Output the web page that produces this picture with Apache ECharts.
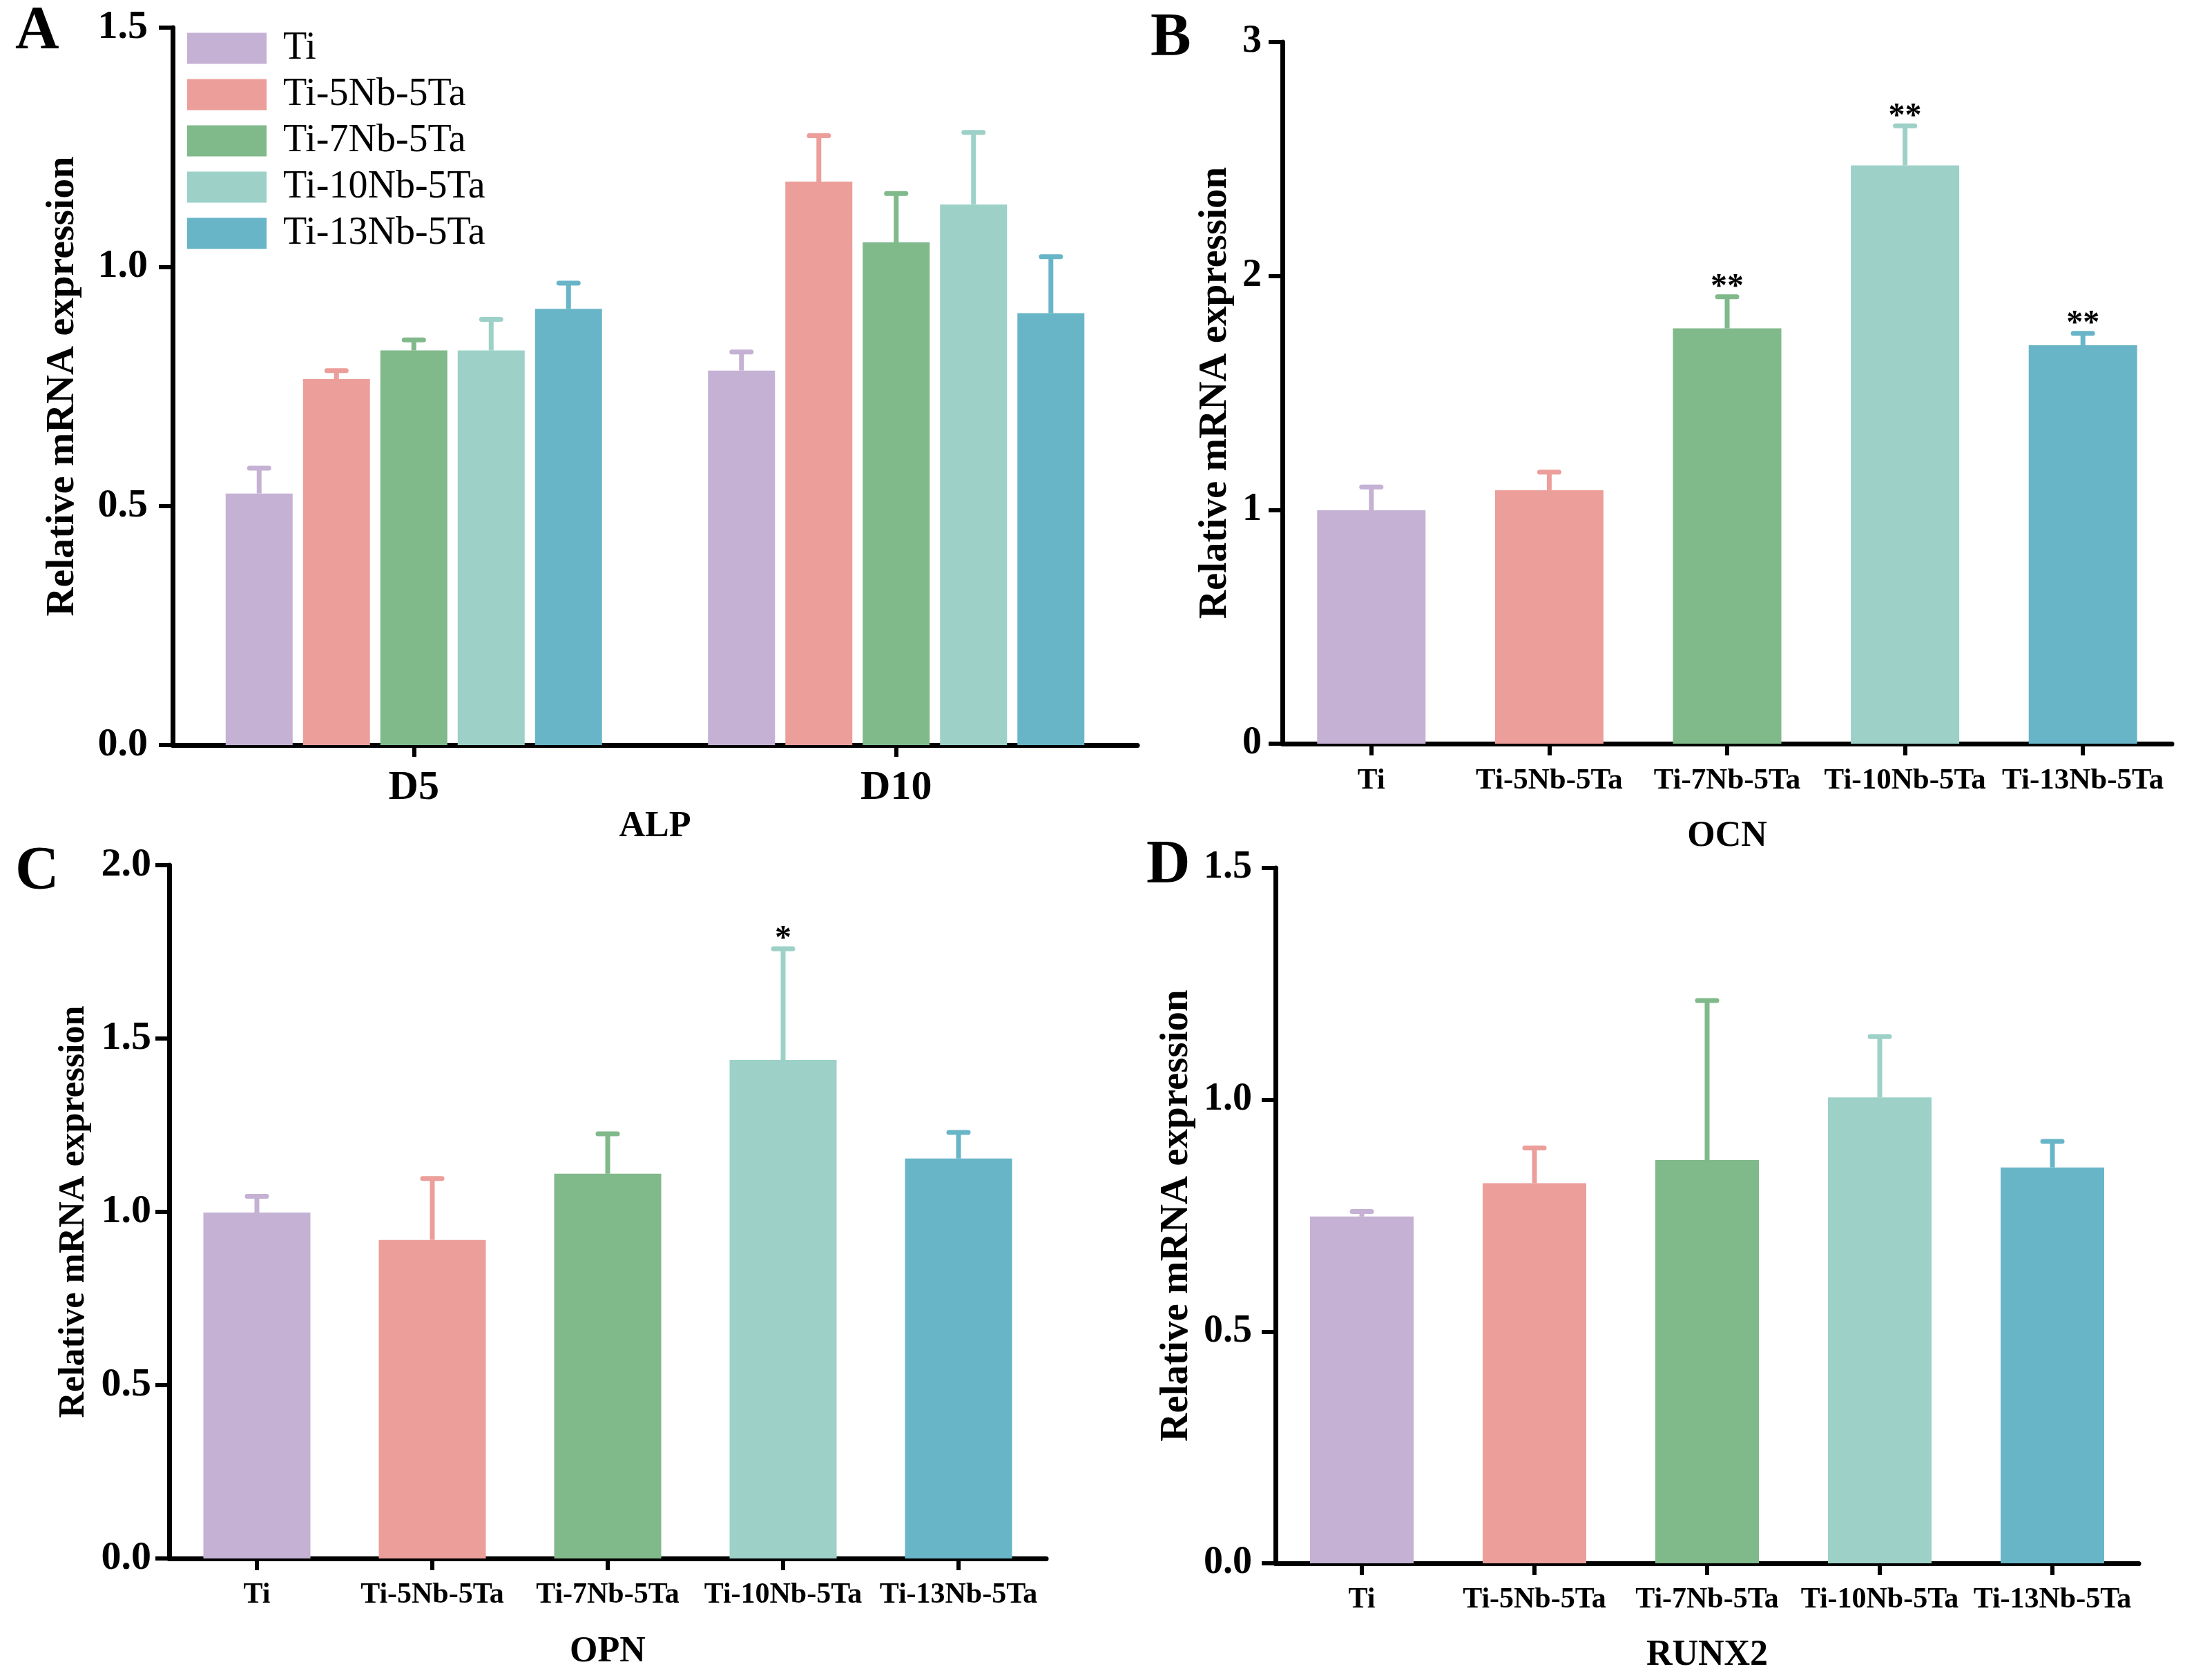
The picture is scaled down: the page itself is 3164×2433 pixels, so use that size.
<!DOCTYPE html>
<html>
<head>
<meta charset="utf-8">
<script src="https://cdn.jsdelivr.net/npm/echarts@6/dist/echarts.min.js"></script>
<style>
html,body{margin:0;padding:0;background:#fff;}
#chart{width:3164px;height:2433px;}
</style>
</head>
<body>
<div id="chart"></div>
<script>
// ---------- data ----------
const groups = ['Ti', 'Ti-5Nb-5Ta', 'Ti-7Nb-5Ta', 'Ti-10Nb-5Ta', 'Ti-13Nb-5Ta'];
const alpDays = ['D5', 'D10'];
const colors = ['#c5b1d4', '#ec9e9a', '#80b98a', '#9dd1c7', '#68b5c8'];

// ALP: one row per group, values for [D5, D10]
const alpMean = [[0.526, 0.783], [0.765, 1.178], [0.825, 1.051], [0.825, 1.130], [0.912, 0.903]];
const alpErr  = [[0.053, 0.039], [0.018, 0.096], [0.022, 0.102], [0.065, 0.151], [0.054, 0.118]];

const ocnMean = [0.998, 1.084, 1.776, 2.473, 1.704];
const ocnErr  = [0.100, 0.077, 0.135, 0.169, 0.051];
const ocnSig  = ['', '', '**', '**', '**'];

const opnMean = [0.998, 0.919, 1.110, 1.438, 1.154];
const opnErr  = [0.047, 0.177, 0.115, 0.321, 0.075];
const opnSig  = ['', '', '', '*', ''];

const runxMean = [0.748, 0.820, 0.870, 1.005, 0.854];
const runxErr  = [0.011, 0.076, 0.344, 0.131, 0.056];
const runxSig  = ['', '', '', '', ''];

const yTicksA = [0, 1.5, 0.5];
const yTicksB = [0, 3, 1];
const yTicksC = [0, 2, 0.5];
const yTicksD = [0, 1.5, 0.5];

// ---------- styles ----------
const FF = '"Liberation Serif", "Times New Roman", serif';
const AXW = 7;

function yAxisOf(gi, ticks, dec, name, nameSize, nameGap, labelSize, labelMargin) {
  return {
    type: 'value', gridIndex: gi, min: ticks[0], max: ticks[1], interval: ticks[2],
    name: name, nameLocation: 'middle', nameGap: nameGap, nameRotate: 90,
    nameTextStyle: {fontFamily: FF, fontWeight: 'bold', fontSize: nameSize, color: '#000'},
    axisLine: {show: true, lineStyle: {color: '#000', width: AXW}},
    axisTick: {show: true, length: 20, lineStyle: {color: '#000', width: 6}},
    splitLine: {show: false},
    axisLabel: {fontFamily: FF, fontWeight: 'bold', fontSize: labelSize, color: '#000', margin: labelMargin,
      formatter: v => v.toFixed(dec)}
  };
}
function xAxisOf(gi, cats, name, labelSize, nameGap) {
  return {
    type: 'category', gridIndex: gi, data: cats,
    name: name, nameLocation: 'middle', nameGap: nameGap,
    nameTextStyle: {fontFamily: FF, fontWeight: 'bold', fontSize: 52, color: '#000'},
    axisLine: {show: true, lineStyle: {color: '#000', width: AXW}},
    axisTick: {show: true, alignWithLabel: true, length: 17, lineStyle: {color: '#000', width: 6}},
    axisLabel: {fontFamily: FF, fontWeight: 'bold', fontSize: labelSize, color: '#000', margin: 32, interval: 0}
  };
}

function errRender(offset, colorFn, sigs) {
  return function (params, api) {
    const i = params.dataIndex;
    const cat = api.value(0);
    const base = api.coord([cat, api.value(1)]);
    const top = api.coord([cat, api.value(2)]);
    const x = base[0] + offset;
    const col = colorFn(i);
    const children = [
      {type: 'line', shape: {x1: x, y1: base[1], x2: x, y2: top[1]}, style: {stroke: col, lineWidth: 7}},
      {type: 'line', shape: {x1: x - 14, y1: top[1], x2: x + 14, y2: top[1]}, style: {stroke: col, lineWidth: 7, lineCap: 'round'}}
    ];
    if (sigs && sigs[i]) {
      children.push({type: 'text', x: x, y: top[1] - 13,
        style: {text: sigs[i], align: 'center', verticalAlign: 'middle', font: 'bold 48px ' + FF, fill: '#000'}});
    }
    return {type: 'group', children: children};
  };
}

// ---------- panel A (grouped) ----------
const BW_A = 97, GAP_A = 15;
const series = [];
groups.forEach((g, k) => {
  series.push({
    type: 'bar', name: g, xAxisIndex: 0, yAxisIndex: 0, data: alpMean[k],
    barWidth: BW_A, barGap: (GAP_A / BW_A * 100) + '%',
    itemStyle: {color: colors[k]}, z: 2
  });
});
groups.forEach((g, k) => {
  const total = 5 * BW_A + 4 * GAP_A;
  const off = -total / 2 + BW_A / 2 + k * (BW_A + GAP_A);
  series.push({
    type: 'custom', name: g + ' err', xAxisIndex: 0, yAxisIndex: 0, z: 3,
    data: alpDays.map((d, j) => [j, alpMean[k][j], alpMean[k][j] + alpErr[k][j]]),
    encode: {x: 0, y: [1, 2]},
    renderItem: errRender(off, () => colors[k], null)
  });
});

// ---------- single-series panels ----------
function singlePanel(idx, name, means, errs, sigs, bw) {
  series.push({
    type: 'bar', name: name, xAxisIndex: idx, yAxisIndex: idx, data: means, barWidth: bw,
    itemStyle: {color: p => colors[p.dataIndex]}, z: 2
  });
  series.push({
    type: 'custom', name: name + ' err', xAxisIndex: idx, yAxisIndex: idx, z: 3,
    data: means.map((m, i) => [i, m, m + errs[i]]),
    encode: {x: 0, y: [1, 2]},
    renderItem: errRender(0, i => colors[i], sigs)
  });
}
singlePanel(1, 'OCN', ocnMean, ocnErr, ocnSig, 157);
singlePanel(2, 'OPN', opnMean, opnErr, opnSig, 155);
singlePanel(3, 'RUNX2', runxMean, runxErr, runxSig, 150);

const letterStyle = t => ({text: t, font: 'bold 88px ' + FF, fill: '#000'});

const option = {
  animation: false,
  backgroundColor: '#fff',
  grid: [
    {left: 250, top: 40, width: 1397, height: 1039, outerBoundsMode: 'none'},
    {left: 1857, top: 61, width: 1288, height: 1016, outerBoundsMode: 'none'},
    {left: 245, top: 1253, width: 1270, height: 1004, outerBoundsMode: 'none'},
    {left: 1847, top: 1257, width: 1250, height: 1007, outerBoundsMode: 'none'}
  ],
  xAxis: [
    xAxisOf(0, alpDays, 'ALP', 60, 92),
    xAxisOf(1, groups, 'OCN', 43, 109),
    xAxisOf(2, groups, 'OPN', 42, 110),
    xAxisOf(3, groups, 'RUNX2', 42, 108)
  ],
  yAxis: [
    yAxisOf(0, yTicksA, 1, 'Relative mRNA expression', 58, 130, 58, 36),
    yAxisOf(1, yTicksB, 0, 'Relative mRNA expression', 57, 68, 56, 30),
    yAxisOf(2, yTicksC, 1, 'Relative mRNA expression', 52, 111, 58, 26),
    yAxisOf(3, yTicksD, 1, 'Relative mRNA expression', 57, 114, 56, 34)
  ],
  legend: {
    data: groups, orient: 'vertical', left: 271, top: 42, padding: 0,
    itemWidth: 115, itemHeight: 45, itemGap: 11, icon: 'rect', selectedMode: false,
    textStyle: {fontFamily: FF, fontSize: 56, color: '#000', lineHeight: 45, padding: [0, 0, 0, 19]}
  },
  graphic: [
    {type: 'text', left: 22, top: 2, style: letterStyle('A')},
    {type: 'text', left: 1666, top: 12, style: letterStyle('B')},
    {type: 'text', left: 22, top: 1219, style: letterStyle('C')},
    {type: 'text', left: 1660, top: 1210, style: letterStyle('D')}
  ],
  series: series
};

const chart = echarts.init(document.getElementById('chart'), null, {renderer: 'canvas'});
chart.setOption(option);
</script>
</body>
</html>
